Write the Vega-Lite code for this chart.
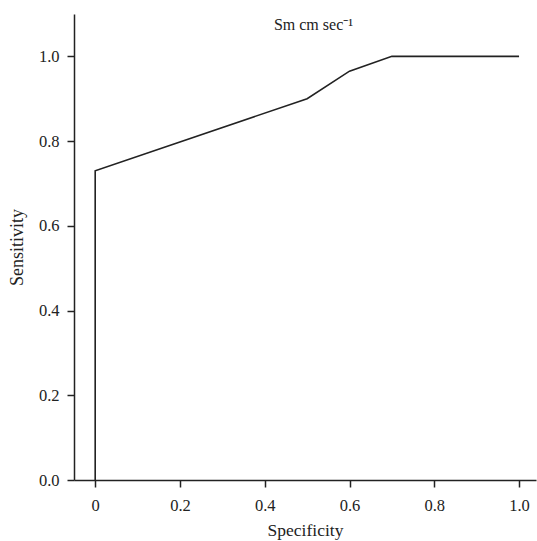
{
  "$schema": "https://vega.github.io/schema/vega-lite/v6.json",
  "width": 462,
  "height": 466,
  "autosize": {"type": "none"},
  "padding": {"left": 74, "top": 14, "right": 1, "bottom": 61},
  "background": "white",
  "config": {
    "view": {"stroke": null},
    "font": "Liberation Serif",
    "axis": {
      "grid": false,
      "domainColor": "#222",
      "domainWidth": 1.5,
      "tickColor": "#222",
      "tickWidth": 1.5,
      "tickSize": 7,
      "labelFont": "Liberation Serif",
      "labelFontSize": 16.5,
      "labelColor": "#222",
      "titleFont": "Liberation Serif",
      "titleFontSize": 17.5,
      "titleFontWeight": "normal",
      "titleColor": "#222"
    }
  },
  "data": {
    "values": [
      {"specificity": 0, "sensitivity": 0},
      {"specificity": 0, "sensitivity": 0.73},
      {"specificity": 0.5, "sensitivity": 0.9},
      {"specificity": 0.6, "sensitivity": 0.965},
      {"specificity": 0.7, "sensitivity": 1.0},
      {"specificity": 1.0, "sensitivity": 1.0}
    ]
  },
  "layer": [
    {
      "mark": {"type": "line", "color": "#222", "strokeWidth": 1.6},
      "encoding": {
        "x": {
          "field": "specificity",
          "type": "quantitative",
          "title": "Specificity",
          "scale": {"domain": [-0.05, 1.04], "nice": false, "zero": false},
          "axis": {
            "values": [0, 0.2, 0.4, 0.6, 0.8, 1.0],
            "labelExpr": "datum.value == 0 ? '0' : format(datum.value, '.1f')",
            "labelPadding": 10,
            "titlePadding": 8
          }
        },
        "y": {
          "field": "sensitivity",
          "type": "quantitative",
          "title": "Sensitivity",
          "scale": {"domain": [0, 1.1], "nice": false},
          "axis": {
            "values": [0, 0.2, 0.4, 0.6, 0.8, 1.0],
            "format": ".1f",
            "labelPadding": 8,
            "titlePadding": 12,
            "titleFontSize": 18
          }
        },
        "order": {"field": "specificity"}
      }
    },
    {
      "data": {"values": [{"label": "Sm cm sec⁻¹", "px": 0.515, "py": 1.062}]},
      "mark": {"type": "text", "font": "Liberation Serif", "fontSize": 16, "color": "#222", "align": "center", "baseline": "alphabetic"},
      "encoding": {
        "x": {"field": "px", "type": "quantitative"},
        "y": {"field": "py", "type": "quantitative"},
        "text": {"field": "label"}
      }
    }
  ]
}
